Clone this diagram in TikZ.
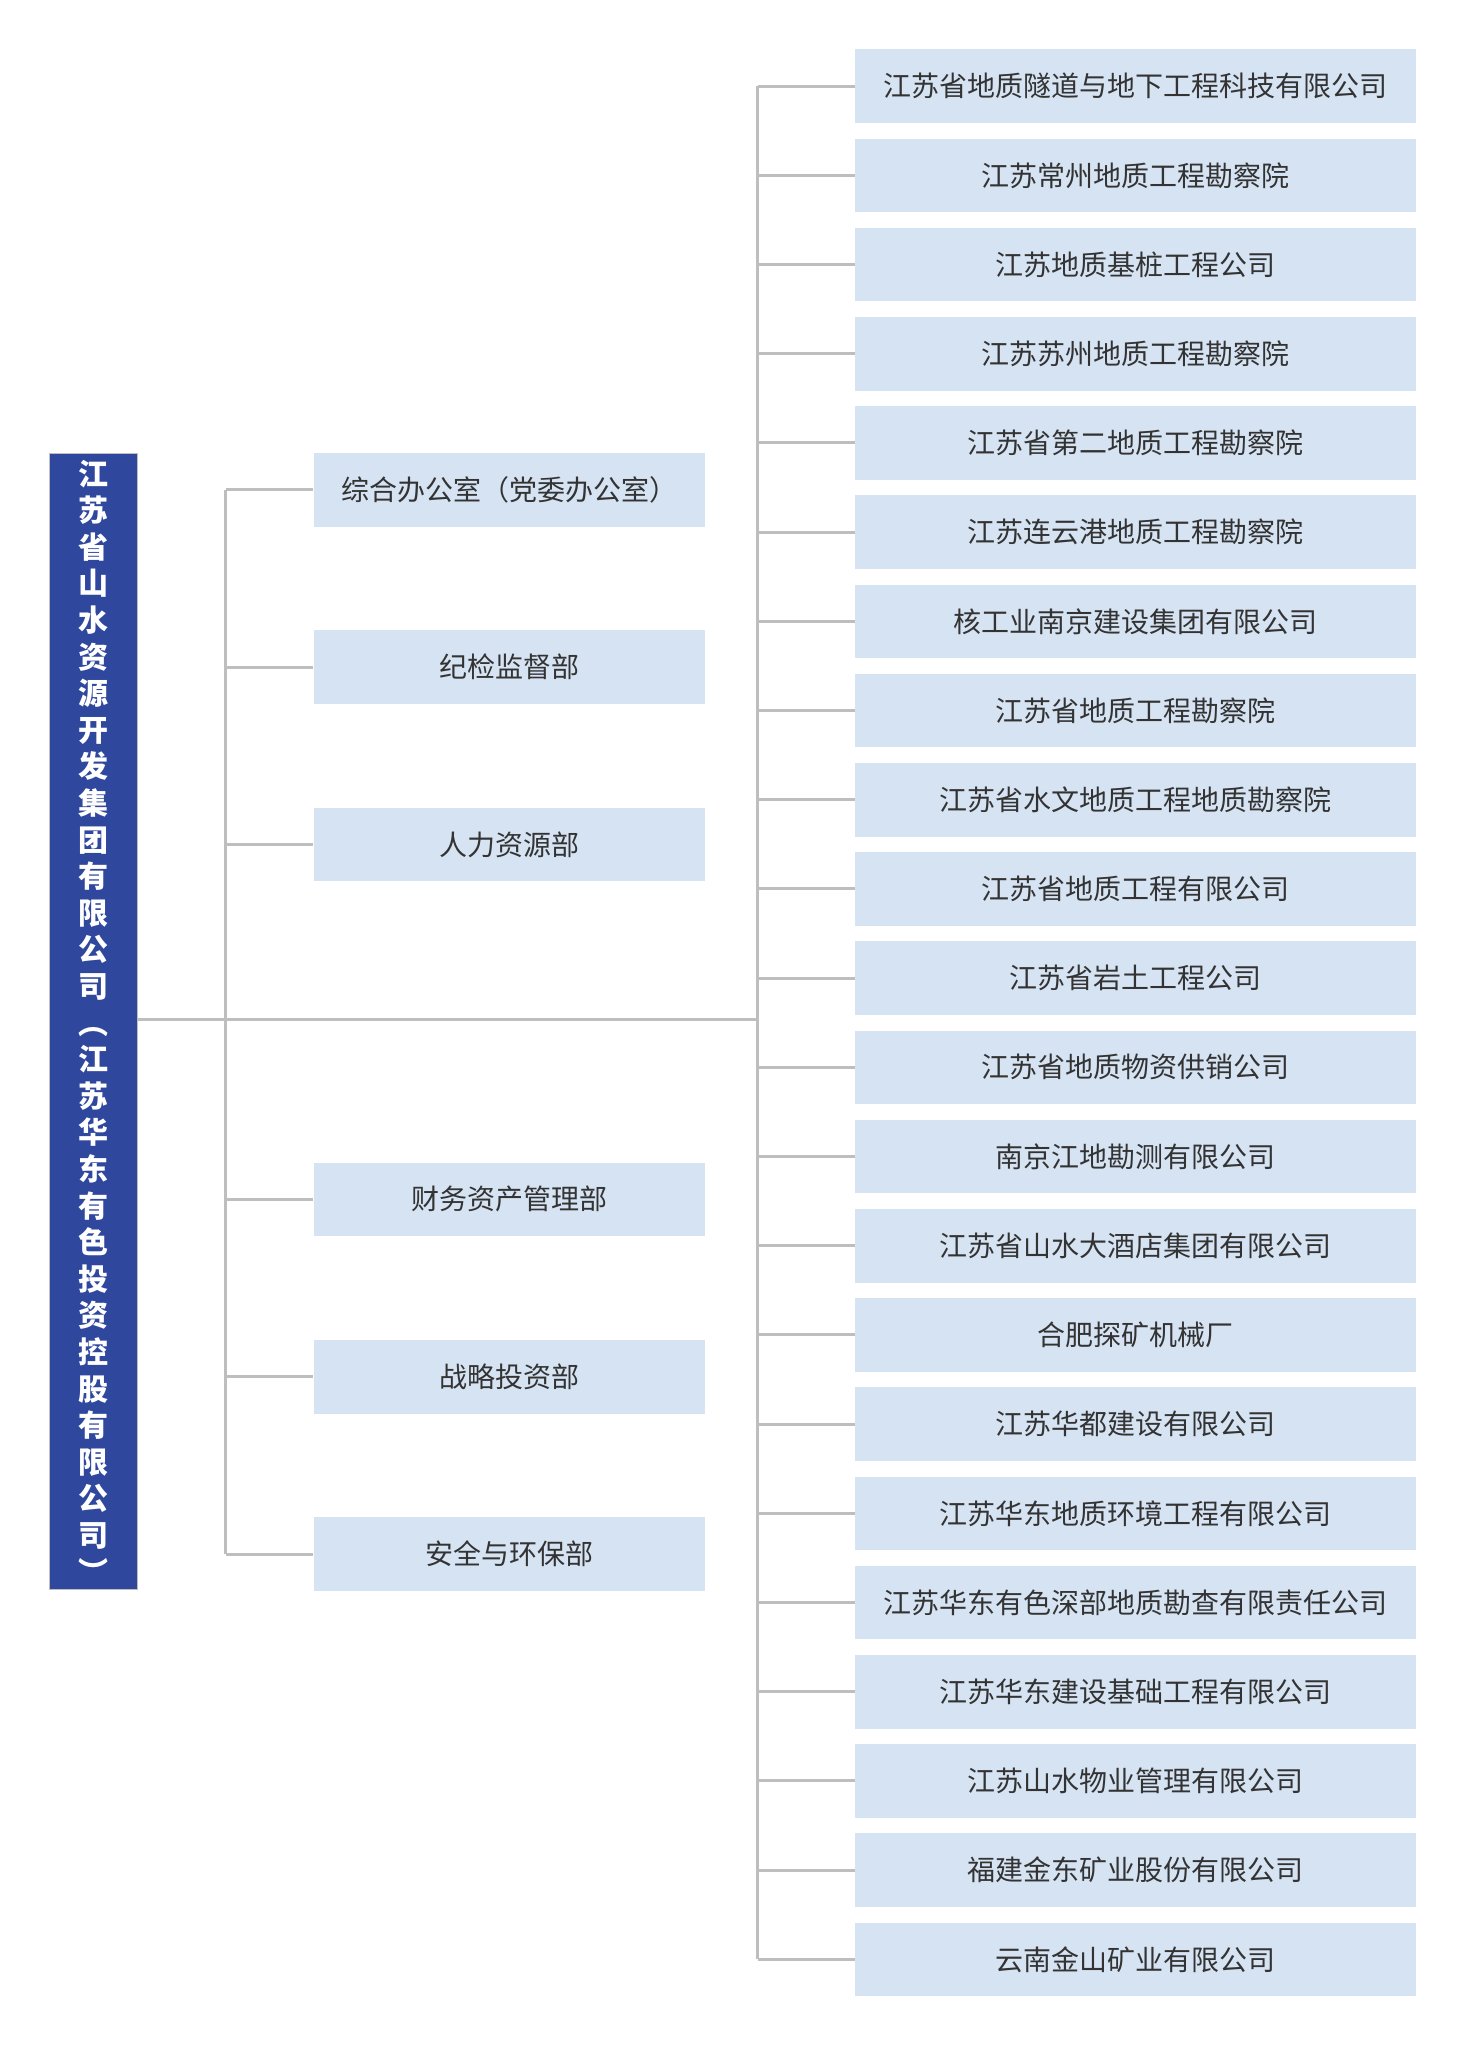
\documentclass[tikz,border=0pt]{standalone}
\usepackage{fontspec}
\setmainfont{Noto Sans CJK SC}
\usetikzlibrary{positioning}
\definecolor{group_blue}{RGB}{47, 72, 158}
\definecolor{box_fill}{RGB}{214, 227, 243}
\definecolor{link_gray}{RGB}{190, 190, 190}

\begin{document}
\begin{tikzpicture}[x=1.008pt, y=-1.008pt,
  unit/.style={fill=box_fill, minimum width=392pt, minimum height=73.6pt, inner sep=0pt, font=\fontsize{28pt}{32pt}\selectfont, text=black!80},
  firm/.style={fill=box_fill, minimum width=561pt, minimum height=73.6pt, inner sep=0pt, font=\fontsize{28pt}{32pt}\selectfont, text=black!80},
  link/.style={link_gray, line width=3pt}]
\useasboundingbox (0,0) rectangle (1453,2031);

\node[fill=group_blue, draw=link_gray, line width=1pt, minimum width=88pt, minimum height=1136pt, inner sep=0pt,
  text=white, align=center, font=\bfseries\fontsize{30pt}{36.6pt}\selectfont] (group) at (92.5,1013.5)
  {江\\苏\\省\\山\\水\\资\\源\\开\\发\\集\\团\\有\\限\\公\\司\\︵\\江\\苏\\华\\东\\有\\色\\投\\资\\控\\股\\有\\限\\公\\司\\︶};

% departments
\foreach \t [count=\i] in {综合办公室（党委办公室）, 纪检监督部, 人力资源部}
  \node[unit] (u\i) at (505.5,{486+176*(\i-1)}) {\t};
\foreach \t [count=\i from 4] in {财务资产管理部, 战略投资部, 安全与环保部}
  \node[unit] (u\i) at (505.5,{1190+176*(\i-4)}) {\t};

% subsidiaries
\foreach \t [count=\i] in {江苏省地质隧道与地下工程科技有限公司, 江苏常州地质工程勘察院, 江苏地质基桩工程公司,
  江苏苏州地质工程勘察院, 江苏省第二地质工程勘察院, 江苏连云港地质工程勘察院, 核工业南京建设集团有限公司,
  江苏省地质工程勘察院, 江苏省水文地质工程地质勘察院, 江苏省地质工程有限公司, 江苏省岩土工程公司,
  江苏省地质物资供销公司, 南京江地勘测有限公司, 江苏省山水大酒店集团有限公司, 合肥探矿机械厂,
  江苏华都建设有限公司, 江苏华东地质环境工程有限公司, 江苏华东有色深部地质勘查有限责任公司,
  江苏华东建设基础工程有限公司, 江苏山水物业管理有限公司, 福建金东矿业股份有限公司, 云南金山矿业有限公司}
  \node[firm] (r\i) at (1127,{85.5+88.5*(\i-1)}) {\t};

\coordinate (trunk) at (752,1012);
\draw[link] (group.east |- trunk) -- (trunk);
\draw[link] (224,0 |- u1) -- (224,0 |- u6);
\foreach \i in {1,...,6}
  \draw[link] (224,0 |- u\i) -- (u\i.west);
\draw[link] (752,0 |- r1) -- (752,0 |- r22);
\foreach \i in {1,...,22}
  \draw[link] (752,0 |- r\i) -- (r\i.west);
\end{tikzpicture}
\end{document}
